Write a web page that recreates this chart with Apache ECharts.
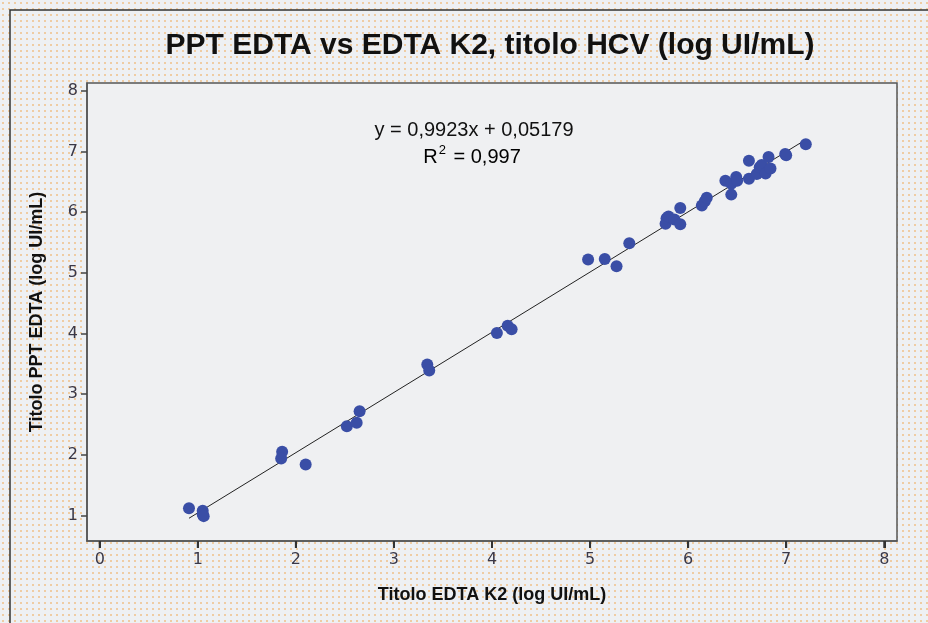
<!DOCTYPE html>
<html>
<head>
<meta charset="utf-8">
<script src="https://cdn.jsdelivr.net/npm/echarts@6/dist/echarts.min.js"></script>
<style>
html,body{margin:0;padding:0;}
#main{width:928px;height:623px;background-color:#eef0f3;
background-image:radial-gradient(circle, rgba(240,180,110,0.6) 0.8px, transparent 1.2px);
background-size:6px 6px;}
</style>
</head>
<body>
<div id="main"></div>
<script>
// EDTA K2 titre (x) vs PPT EDTA titre (y), log UI/mL
const edtaK2 = [0.91,1.05,1.05,1.06,1.86,1.85,2.10,2.52,2.62,2.65,3.34,3.36,4.05,4.16,4.20,4.98,5.15,5.27,5.40,5.77,5.78,5.80,5.86,5.92,5.92,6.14,6.17,6.19,6.38,6.44,6.44,6.49,6.50,6.62,6.62,6.70,6.73,6.75,6.79,6.82,6.84,6.99,7.00,7.20];
const pptEdta = [1.12,1.08,1.02,0.99,2.05,1.94,1.84,2.47,2.53,2.72,3.49,3.39,4.01,4.13,4.07,5.22,5.23,5.11,5.49,5.81,5.90,5.93,5.88,5.80,6.07,6.11,6.18,6.24,6.52,6.29,6.47,6.58,6.52,6.85,6.55,6.63,6.74,6.78,6.64,6.91,6.72,6.96,6.94,7.12];
const slope = 0.9923;
const intercept = 0.05179;
const xTicks = [0,1,2,3,4,5,6,7,8];
const yTicks = [1,2,3,4,5,6,7,8];
const titleText = 'PPT EDTA vs EDTA K2, titolo HCV (log UI/mL)';
const xTitle = 'Titolo EDTA K2 (log UI/mL)';
const yTitle = 'Titolo PPT EDTA (log UI/mL)';
const eqText = 'y = 0,9923x + 0,05179';
const r2Text = '0,997';

const X_MIN = -0.13, X_MAX = 8.13, Y_MIN = 0.58, Y_MAX = 8.13;
const pts = edtaK2.map((x,i)=>[x,pptEdta[i]]);
const xMin = Math.min(...edtaK2), xMax = Math.max(...edtaK2);
const fit = [[xMin, slope*xMin+intercept],[xMax, slope*xMax+intercept]];
const xTickMarks = xTicks.map(t=>[t, Y_MIN]);

const lblStyle = {fontFamily:'DejaVu Sans',fontSize:16,color:'#3a3848'};
const chart = echarts.init(document.getElementById('main'), null, {renderer:'canvas'});
chart.setOption({
  backgroundColor:'transparent',
  animation:false,
  title:{text:titleText,left:485,top:26,textAlign:'center',
    textStyle:{fontFamily:'Liberation Sans',fontWeight:'bold',fontSize:30,color:'#111'}},
  grid:{left:87,top:83,right:31,bottom:82,show:true,backgroundColor:'#eff0f2',borderColor:'#555',borderWidth:1.5},
  xAxis:{type:'value',min:X_MIN,max:X_MAX,position:'bottom',
    name:xTitle,nameLocation:'middle',nameGap:45,
    nameTextStyle:{fontFamily:'Liberation Sans',fontWeight:'bold',fontSize:18,color:'#111'},
    axisLine:{show:true,onZero:false,lineStyle:{color:'#555',width:1.5}},splitLine:{show:false},
    axisTick:{show:true,length:7,inside:false,customValues:xTicks,lineStyle:{color:'#333',width:2}},
    axisLabel:Object.assign({customValues:xTicks,margin:11},lblStyle)},
  yAxis:{type:'value',min:Y_MIN,max:Y_MAX,position:'left',
    name:yTitle,nameLocation:'middle',nameGap:41,nameRotate:90,
    nameTextStyle:{fontFamily:'Liberation Sans',fontWeight:'bold',fontSize:18,color:'#111'},
    axisLine:{show:true,onZero:false,lineStyle:{color:'#555',width:1.5}},splitLine:{show:false},
    axisTick:{show:true,length:6,inside:false,customValues:yTicks,lineStyle:{color:'#444',width:1.5}},
    axisLabel:Object.assign({customValues:yTicks,margin:9},lblStyle)},
  graphic:[
    {type:'rect',shape:{x:10,y:10,width:940,height:640},style:{fill:'none',stroke:'#333',lineWidth:1.5},silent:true},
    {type:'text',x:474,y:120,style:{text:eqText,font:'20px "Liberation Sans"',fill:'#111',textAlign:'center'}},
    {type:'text',x:472,y:144,style:{text:'{n|R}{s|2}{n| = '+r2Text+'}',textAlign:'center',
      rich:{n:{fontFamily:'Liberation Sans',fontSize:20,color:'#111',verticalAlign:'bottom'},
            s:{fontFamily:'Liberation Sans',fontSize:13,color:'#111',verticalAlign:'top',padding:[0,2,10,1]}}}}
  ],
  series:[
    {type:'line',data:fit,symbol:'none',lineStyle:{color:'#222',width:1},z:1},
    {type:'scatter',data:pts,symbol:'circle',symbolSize:12,itemStyle:{color:'#3a4ea6',opacity:1},z:2},
    {type:'custom',name:'xTicks',data:xTickMarks,clip:false,silent:true,z:5,
      renderItem:function(params,api){
        const p = api.coord([api.value(0), api.value(1)]);
        return {type:'rect',shape:{x:p[0]-1,y:p[1],width:2,height:7},
          style:{fill:'#333'}};
      }}
  ]
});
</script>
</body>
</html>
